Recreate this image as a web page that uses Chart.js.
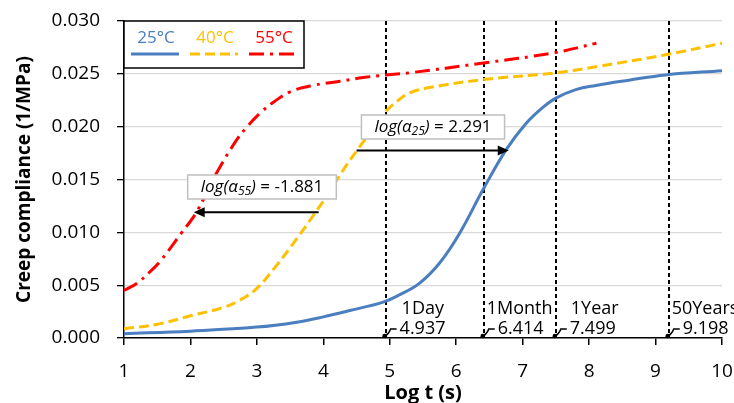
<!DOCTYPE html>
<html>
<head>
<meta charset="utf-8">
<script src="https://cdn.jsdelivr.net/npm/chart.js@4/dist/chart.umd.min.js"></script>
<style>
  html, body { margin: 0; padding: 0; background: #fff; }
  #wrap { width: 734px; height: 403px; }
</style>
</head>
<body>
<div id="wrap"><canvas id="creep" width="734" height="403"></canvas></div>
<script>
  const FONT = "'Open Sans', 'Liberation Sans', sans-serif";

  // master curves, log t (s) vs creep compliance (1/MPa)
  const logT25 = [1, 2, 3, 3.6, 4, 4.4, 4.9, 5.15, 5.45, 5.75, 6.05, 6.4, 6.75, 7.05, 7.3, 7.5, 7.8, 8.1, 8.6, 9.15, 10];
  const comp25 = [0.0004, 0.00065, 0.00103, 0.0015, 0.002, 0.0026, 0.0034, 0.0041, 0.0052, 0.0071, 0.0099, 0.0140, 0.0178, 0.0203, 0.0218, 0.0227, 0.0235, 0.0239, 0.0244, 0.0249, 0.0253];

  const logT40 = [1, 1.5, 2, 2.5, 2.75, 3.0, 3.3, 3.6, 3.85, 4.1, 4.3, 4.5, 4.7, 4.92, 5.15, 5.3, 5.6, 6.4, 7.5, 8.13, 9.15, 10];
  const comp40 = [0.00087, 0.0013, 0.0021, 0.0029, 0.0036, 0.0047, 0.0069, 0.0094, 0.0116, 0.0139, 0.0159, 0.0177, 0.0194, 0.0213, 0.0226, 0.0232, 0.0237, 0.02445, 0.0251, 0.0257, 0.0268, 0.0279];

  const logT55 = [1.0, 1.2, 1.38, 1.53, 1.86, 2.09, 2.41, 2.69, 2.84, 3.05, 3.27, 3.5, 3.84, 4.25, 4.6, 4.95, 5.3, 6.38, 7.48, 8.11];
  const comp55 = [0.0045, 0.0052, 0.0062, 0.00715, 0.0099, 0.0119, 0.0158, 0.0187, 0.0199, 0.0213, 0.0224, 0.0233, 0.0239, 0.0243, 0.02465, 0.0249, 0.0251, 0.026, 0.027, 0.0279];

  const seriesNames = ['25°C', '40°C', '55°C'];

  // shift factors: arrows start on the 40°C curve
  const shift25 = 2.291, from25 = 4.5, level25 = 0.01775;
  const shift55 = -1.881, from55 = 3.93, level55 = 0.0119;

  // time markers on the log t axis
  const markerLogT = [4.937, 6.414, 7.499, 9.198];
  const markerNames = ['1Day', '1Month', '1Year', '50Years'];

  const yTicks = [0, 0.005, 0.01, 0.015, 0.02, 0.025, 0.03];

  const toPoints = (xs, ys) => xs.map((x, i) => ({ x, y: ys[i] }));

  const styles = [
    { color: '#4a7ebf', dash: [] },
    { color: '#ffc000', dash: [10, 5] },
    { color: '#ff0000', dash: [15, 6, 3, 6] }
  ];

  function drawArrow(ctx, x1, x2, y) {
    const dir = x2 > x1 ? 1 : -1;
    ctx.save();
    ctx.strokeStyle = '#000';
    ctx.fillStyle = '#000';
    ctx.lineWidth = 2;
    ctx.beginPath();
    ctx.moveTo(x1, y);
    ctx.lineTo(x2 - dir * 8, y);
    ctx.stroke();
    ctx.beginPath();
    ctx.moveTo(x2, y);
    ctx.lineTo(x2 - dir * 11, y - 5);
    ctx.lineTo(x2 - dir * 11, y + 5);
    ctx.closePath();
    ctx.fill();
    ctx.restore();
  }

  // "log(α_sub) = value" label in a grey-bordered box
  function drawShiftBox(ctx, cx, cy, sub, value) {
    const it = 'italic 17px ' + FONT;
    const itSmall = 'italic 12px ' + FONT;
    const reg = '17px ' + FONT;
    const parts = [
      { t: 'log(α', f: it, dy: 0 },
      { t: sub, f: itSmall, dy: 5 },
      { t: ')', f: it, dy: 0 },
      { t: ' = ' + value, f: reg, dy: 0 }
    ];
    ctx.save();
    let w = 0;
    parts.forEach(p => { ctx.font = p.f; p.w = ctx.measureText(p.t).width; w += p.w; });
    const bw = w + 26, bh = 24;
    ctx.fillStyle = '#fff';
    ctx.fillRect(cx - bw / 2, cy - bh / 2, bw, bh);
    ctx.strokeStyle = '#bfbfbf';
    ctx.lineWidth = 1.5;
    ctx.strokeRect(cx - bw / 2, cy - bh / 2, bw, bh);
    ctx.fillStyle = '#000';
    ctx.textBaseline = 'middle';
    ctx.textAlign = 'left';
    let x = cx - w / 2;
    parts.forEach(p => {
      ctx.font = p.f;
      ctx.fillText(p.t, x, cy + p.dy);
      x += p.w;
    });
    ctx.restore();
  }

  const markersBehind = {
    id: 'markersBehind',
    beforeDatasetsDraw(chart) {
      const { ctx, chartArea, scales } = chart;
      ctx.save();
      ctx.strokeStyle = '#000';
      ctx.lineWidth = 2;
      ctx.setLineDash([4, 3]);
      markerLogT.forEach(v => {
        const x = Math.round(scales.x.getPixelForValue(v));
        ctx.beginPath();
        ctx.moveTo(x, chartArea.top);
        ctx.lineTo(x, chartArea.bottom);
        ctx.stroke();
      });
      ctx.restore();
    }
  };

  const overlays = {
    id: 'overlays',
    afterDatasetsDraw(chart) {
      const { ctx, chartArea, scales } = chart;
      const X = v => scales.x.getPixelForValue(v);
      const Y = v => scales.y.getPixelForValue(v);

      // shift arrows and their labels
      drawArrow(ctx, X(from25), X(from25 + shift25), Y(level25));
      drawArrow(ctx, X(from55), X(from55 + shift55), Y(level55));
      drawShiftBox(ctx, 433, 127, '25', shift25.toFixed(3));
      drawShiftBox(ctx, 262, 187, '55', shift55.toFixed(3));

      // marker names and values with small leader lines
      const nameOffsets = [16, 3, 15, 3];
      ctx.save();
      ctx.fillStyle = '#000';
      ctx.strokeStyle = '#000';
      ctx.font = '18px ' + FONT;
      ctx.textBaseline = 'middle';
      ctx.textAlign = 'left';
      markerLogT.forEach((v, i) => {
        const x = scales.x.getPixelForValue(v);
        const yb = chartArea.bottom;
        ctx.fillText(markerNames[i], x + nameOffsets[i], yb - 29);
        ctx.fillText(v.toFixed(3), x + 14, yb - 9);
        ctx.lineWidth = 1.5;
        ctx.setLineDash([]);
        ctx.beginPath();
        ctx.moveTo(x - 3, yb - 1);
        ctx.quadraticCurveTo(x + 3, yb - 3, x + 5, yb - 9);
        ctx.lineTo(x + 11, yb - 9);
        ctx.stroke();
        ctx.beginPath();
        ctx.arc(x - 1, yb - 2, 2.2, 0, Math.PI * 2);
        ctx.fill();
      });
      ctx.restore();

      // legend box in the top-left corner of the plot
      const lx = chartArea.left, ly = chartArea.top;
      ctx.save();
      ctx.fillStyle = '#fff';
      ctx.fillRect(lx, ly, 180, 47);
      ctx.strokeStyle = '#000';
      ctx.lineWidth = 1.5;
      ctx.strokeRect(lx, ly, 180, 47);
      ctx.font = '17px ' + FONT;
      ctx.textAlign = 'center';
      ctx.textBaseline = 'middle';
      seriesNames.forEach((name, i) => {
        const cx = lx + 32 + i * 59;
        ctx.fillStyle = styles[i].color;
        ctx.fillText(name, cx, ly + 17);
        ctx.strokeStyle = styles[i].color;
        ctx.lineWidth = 3;
        ctx.setLineDash(styles[i].dash);
        ctx.beginPath();
        ctx.moveTo(cx - 25, ly + 33);
        ctx.lineTo(cx + 23, ly + 33);
        ctx.stroke();
      });
      ctx.restore();
    }
  };

  const datasets = [toPoints(logT25, comp25), toPoints(logT40, comp40), toPoints(logT55, comp55)]
    .map((pts, i) => ({
      label: seriesNames[i],
      data: pts,
      borderColor: styles[i].color,
      borderDash: styles[i].dash,
      borderWidth: 3,
      pointRadius: 0,
      tension: 0.4,
      fill: false
    }));

  new Chart(document.getElementById('creep'), {
    type: 'line',
    data: { datasets },
    options: {
      responsive: false,
      animation: false,
      layout: { padding: { top: 21, right: 12, left: 0, bottom: 0 } },
      plugins: { legend: { display: false }, tooltip: { enabled: false } },
      scales: {
        x: {
          type: 'linear',
          min: 1,
          max: 10,
          ticks: { stepSize: 1, color: '#000', padding: 15, font: { family: FONT, size: 19 } },
          grid: { drawOnChartArea: false, tickLength: 7, tickColor: '#000', lineWidth: 1.5 },
          border: { color: '#000', width: 1.5 },
          title: { display: true, text: 'Log t (s)', color: '#000', padding: { top: 0, bottom: 0 }, font: { family: FONT, size: 20, weight: 'bold', lineHeight: 1 } },
          afterFit(s) { s.height = 65; s.paddingLeft = 0; s.paddingRight = 0; }
        },
        y: {
          min: 0,
          max: 0.03,
          afterBuildTicks(s) { s.ticks = yTicks.map(v => ({ value: v })); },
          ticks: { color: '#000', padding: 17, font: { family: FONT, size: 19 }, callback: v => v.toFixed(3) },
          grid: { color: '#d9d9d9', lineWidth: 1.3, tickColor: '#000', tickLength: 7 },
          border: { color: '#000', width: 1.5 },
          title: { display: true, text: 'Creep compliance (1/MPa)', color: '#000', padding: { top: 15, bottom: 0 }, font: { family: FONT, size: 19, weight: 'bold', lineHeight: 1 } },
          afterFit(s) { s.width = 124; s.paddingTop = 0; s.paddingBottom = 0; }
        }
      }
    },
    plugins: [markersBehind, overlays]
  });
</script>
</body>
</html>
